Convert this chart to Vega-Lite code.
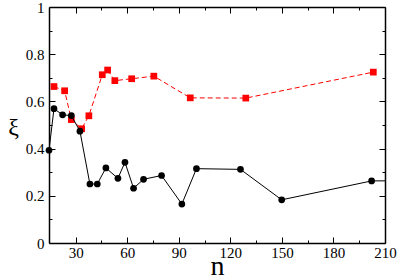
{
  "$schema": "https://vega.github.io/schema/vega-lite/v6.json",
  "width": 336,
  "height": 236,
  "autosize": "none",
  "padding": {"left": 49, "top": 7, "right": 14, "bottom": 34},
  "background": "white",
  "config": {
    "font": "'Liberation Serif', 'Times New Roman', Times, 'DejaVu Serif', serif",
    "view": {"stroke": null},
    "axis": {"labelFont": "'Liberation Serif', 'Times New Roman', Times, 'DejaVu Serif', serif", "titleFont": "'Liberation Serif', 'Times New Roman', Times, 'DejaVu Serif', serif", "titleFontWeight": "normal", "labelColor": "#000", "titleColor": "#000", "domainColor": "#000", "tickColor": "#000", "grid": false, "labelFontSize": 15, "domainWidth": 1.5, "tickWidth": 1, "labelFlush": false, "labelOverlap": false}
  },
  "data": {"values": [
    {"n": 14.5, "xi": 0.393, "s": "b"},
    {"n": 17.4, "xi": 0.569, "s": "b"},
    {"n": 22.4, "xi": 0.543, "s": "b"},
    {"n": 27.5, "xi": 0.540, "s": "b"},
    {"n": 32.5, "xi": 0.474, "s": "b"},
    {"n": 38.3, "xi": 0.250, "s": "b"},
    {"n": 42.6, "xi": 0.250, "s": "b"},
    {"n": 47.6, "xi": 0.318, "s": "b"},
    {"n": 54.6, "xi": 0.274, "s": "b"},
    {"n": 58.7, "xi": 0.342, "s": "b"},
    {"n": 63.7, "xi": 0.232, "s": "b"},
    {"n": 69.5, "xi": 0.270, "s": "b"},
    {"n": 80.0, "xi": 0.286, "s": "b"},
    {"n": 91.8, "xi": 0.165, "s": "b"},
    {"n": 100.3, "xi": 0.315, "s": "b"},
    {"n": 125.9, "xi": 0.312, "s": "b"},
    {"n": 149.9, "xi": 0.183, "s": "b"},
    {"n": 202.2, "xi": 0.263, "s": "b"},
    {"n": 240.0, "xi": 0.265, "s": "b"},
    {"n": 17.4, "xi": 0.663, "s": "r"},
    {"n": 23.6, "xi": 0.645, "s": "r"},
    {"n": 27.5, "xi": 0.523, "s": "r"},
    {"n": 33.5, "xi": 0.484, "s": "r"},
    {"n": 37.7, "xi": 0.539, "s": "r"},
    {"n": 45.5, "xi": 0.713, "s": "r"},
    {"n": 48.6, "xi": 0.733, "s": "r"},
    {"n": 52.8, "xi": 0.688, "s": "r"},
    {"n": 62.6, "xi": 0.696, "s": "r"},
    {"n": 75.5, "xi": 0.707, "s": "r"},
    {"n": 96.7, "xi": 0.615, "s": "r"},
    {"n": 129.0, "xi": 0.614, "s": "r"},
    {"n": 203.2, "xi": 0.724, "s": "r"}
  ]},
  "layer": [
    {
      "transform": [{"filter": "datum.s === 'r'"}],
      "mark": {"type": "line", "color": "#ff0000", "strokeWidth": 1, "strokeDash": [5, 3], "clip": true},
      "encoding": {
        "x": {"field": "n", "type": "quantitative", "scale": {"domain": [14.5, 210], "nice": false, "zero": false},
          "axis": {"orient": "top", "title": null, "labels": false, "domain": true, "values": [30,45,60,75,90,105,120,135,150,165,180,195,210], "tickSize": {"condition": {"test": "datum.value % 30 === 0", "value": -6}, "value": -3}}},
        "y": {"field": "xi", "type": "quantitative", "scale": {"domain": [0, 1], "nice": false},
          "axis": {"orient": "right", "title": null, "labels": false, "domain": true, "values": [0,0.1,0.2,0.3,0.4,0.5,0.6,0.7,0.8,0.9,1], "tickSize": {"condition": {"test": "round(datum.value*10) % 2 === 0", "value": -6}, "value": -3}}}
      }
    },
    {
      "transform": [{"filter": "datum.s === 'r'"}],
      "mark": {"type": "point", "shape": "square", "filled": true, "color": "#ff0000", "size": 45, "opacity": 1},
      "encoding": {
        "x": {"field": "n", "type": "quantitative", "scale": {"domain": [14.5, 210], "nice": false, "zero": false},
          "axis": {"orient": "bottom", "title": null, "labels": false, "domain": false, "values": [30,45,60,75,90,105,120,135,150,165,180,195,210], "tickSize": {"condition": {"test": "datum.value % 30 === 0", "value": -6}, "value": -3}}},
        "y": {"field": "xi", "type": "quantitative", "scale": {"domain": [0, 1], "nice": false},
          "axis": {"orient": "left", "title": null, "labels": false, "domain": false, "values": [0,0.1,0.2,0.3,0.4,0.5,0.6,0.7,0.8,0.9,1], "tickSize": {"condition": {"test": "round(datum.value*10) % 2 === 0", "value": -6}, "value": -3}}}
      }
    },
    {
      "transform": [{"filter": "datum.s === 'b'"}],
      "mark": {"type": "line", "color": "#000000", "strokeWidth": 1, "clip": true},
      "encoding": {
        "x": {"field": "n", "type": "quantitative", "scale": {"domain": [14.5, 210], "nice": false, "zero": false},
          "axis": {"orient": "bottom", "title": "n", "titleFontSize": 28, "titleBaseline": "alphabetic", "titleY": 31.5, "titleX": 168, "titleAlign": "center", "ticks": false, "labelPadding": 2, "domain": true, "values": [30,60,90,120,150,180,210]}},
        "y": {"field": "xi", "type": "quantitative", "scale": {"domain": [0, 1], "nice": false},
          "axis": {"orient": "left", "title": "ξ", "titleFontSize": 24, "titleAngle": 0, "titleAlign": "center", "titleBaseline": "middle", "titleX": -36, "titleY": 120, "ticks": false, "labelPadding": 5, "labelBaseline": "middle", "domain": true, "values": [0,0.2,0.4,0.6,0.8,1], "format": "~g"}}
      }
    },
    {
      "transform": [{"filter": "datum.s === 'b' && datum.n <= 210"}],
      "mark": {"type": "point", "shape": "circle", "filled": true, "color": "#000000", "size": 45, "opacity": 1},
      "encoding": {
        "x": {"field": "n", "type": "quantitative", "scale": {"domain": [14.5, 210], "nice": false, "zero": false}, "axis": null},
        "y": {"field": "xi", "type": "quantitative", "scale": {"domain": [0, 1], "nice": false}, "axis": null}
      }
    }
  ],
  "resolve": {"axis": {"x": "independent", "y": "independent"}}
}
